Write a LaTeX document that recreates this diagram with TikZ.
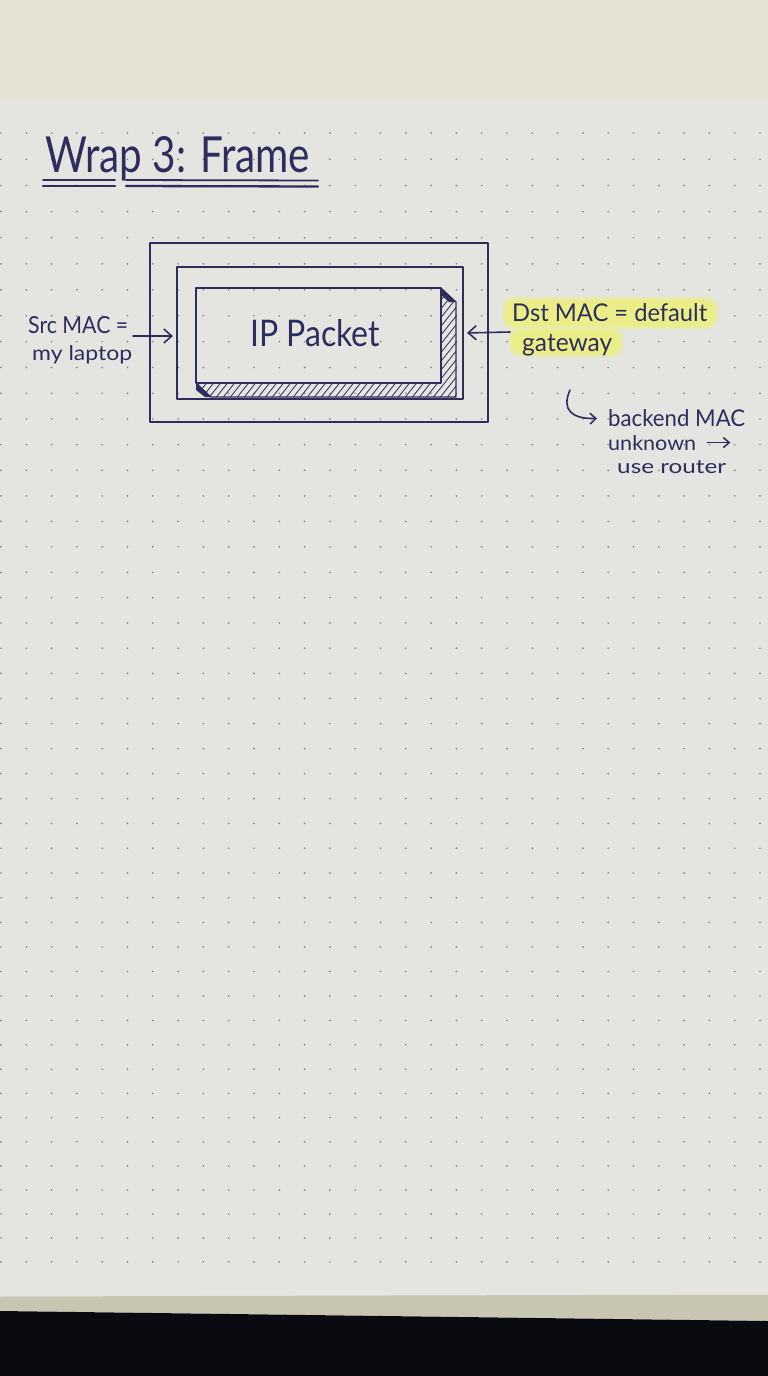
\documentclass[tikz,border=0pt]{standalone}
\usepackage{fontspec}
\setmainfont{Lato}
\usetikzlibrary{arrows.meta}
\definecolor{ink}{HTML}{2E2E5E}
\definecolor{paper}{HTML}{E4E4E1}
\definecolor{cream}{HTML}{E5E4D3}
\definecolor{dotc}{HTML}{86868A}
\definecolor{hl}{HTML}{EBEE86}
\definecolor{edgec}{HTML}{C8C6B2}
\definecolor{darkc}{HTML}{0A0B10}
\tikzset{
  hand/.style={text=ink, inner sep=0pt, anchor=base west},
  pen/.style={draw=ink, line width=1.8pt, line join=round, line cap=round},
  boxpen/.style={draw=ink, line width=2pt, inner sep=0pt, line join=round},
  arr/.style={draw=ink, line width=1.6pt, line cap=round, -{Straight Barb[length=8pt,width=14pt,line width=1.6pt]}},
  hatch/.style={draw=ink, line width=0.8pt},
  hlbox/.style={fill=hl, rounded corners=11pt},
}
\begin{document}
\begin{tikzpicture}[x=1pt,y=-1pt]
\useasboundingbox (0,0) rectangle (768,1376);
% backgrounds
\fill[cream] (0,0) rectangle (768,100);
\fill[paper] (0,99) rectangle (768,1297);
\fill[edgec] (0,1296.5) -- (768,1294.5) -- (768,1321) -- (0,1311) -- cycle;
\fill[darkc] (0,1311) -- (768,1321) -- (768,1376) -- (0,1376) -- cycle;
% dot grid
\foreach \k in {0,...,45}{
  \foreach \j in {0,...,30}{
    \fill[dotc] ({1+25.3*\j},{133+26.3*\k-0.027*\k*\k}) circle (0.95);
  }
}
% highlights
\fill[hlbox, hl!60!paper] (502,297) rectangle (718,329);
\fill[hlbox] (505,300) rectangle (715,326);
\fill[hlbox, hl!60!paper] (509,327) rectangle (623,357);
\fill[hlbox] (512,330) rectangle (620,354);
% title
\node[hand] (title) at (45,172) {\resizebox{265pt}{36pt}{Wrap 3: Frame}};
\draw[pen] (43,180) -- (115,180);
\draw[pen] (126,180) -- (318,180.5);
\draw[pen, line width=2.3pt] (43,186) -- (115,186);
\draw[pen, line width=2.3pt] (126,186) -- (318,186.5);
% frame boxes
\node[boxpen, minimum width=338pt, minimum height=179pt] (outer) at (319,332.5) {};
\node[boxpen, minimum width=286pt, minimum height=132pt] (middle) at (320,333) {};
% shadow of packet
\begin{scope}
  \clip (441,288) -- (456,302) -- (456,397) -- (211,397) -- (196,383) -- (441,383) -- cycle;
  \foreach \i in {0,...,46}{
    \draw[hatch] ({150+7*\i},410) -- ++(100,-125);
  }
\end{scope}
\fill[ink] (441,288) -- (456,302) -- (449,302) -- (441,295) -- cycle;
\fill[ink] (196,383) -- (211,397) -- (205,397) -- (196,390) -- cycle;
\draw[ink, line width=1.2pt, line join=round] (441,288) -- (456,302) -- (456,397) -- (211,397) -- (196,383);
\node[boxpen, minimum width=245pt, minimum height=95pt] (packet) at (318.5,335.5) {};
\node[hand] (iptext) at (250,346.7) {\resizebox{130pt}{27pt}{IP Packet}};
% left label
\node[hand] (src1) at (28,333) {\resizebox{100pt}{17pt}{Src MAC =}};
\node[hand] (src2) at (32,360) {\resizebox{100pt}{15pt}{my laptop}};
\coordinate (srcA) at (133,336);
\draw[arr, shorten >=3pt] (srcA) -- (srcA -| middle.west);
% right label
\node[hand] (dst1) at (512,321.7) {\resizebox{195pt}{18pt}{Dst MAC = default}};
\node[hand] (dst2) at (522,351.7) {\resizebox{90pt}{17pt}{gateway}};
\coordinate (dstA) at (510,332);
\draw[arr, shorten >=3pt] (dstA) -- (middle.east);
% note
\node[hand] (n1) at (608,426.7) {\resizebox{137pt}{17pt}{backend MAC}};
\node[hand] (n2) at (608,450) {\resizebox{88pt}{15pt}{unknown}};
\node[hand] (n3) at (617,473.3) {\resizebox{109pt}{13pt}{use router}};
\coordinate (curlS) at (570,390);
\draw[arr, shorten >=11pt, -{Straight Barb[length=6pt,width=11pt,line width=1.5pt]}] (curlS) .. controls (561,410) and (572,419) .. (n1.west);
\draw[arr, -{Straight Barb[length=6pt,width=10pt,line width=1.5pt]}] ([xshift=11pt]n2.east) -- ++(23,0);
\end{tikzpicture}
\end{document}
